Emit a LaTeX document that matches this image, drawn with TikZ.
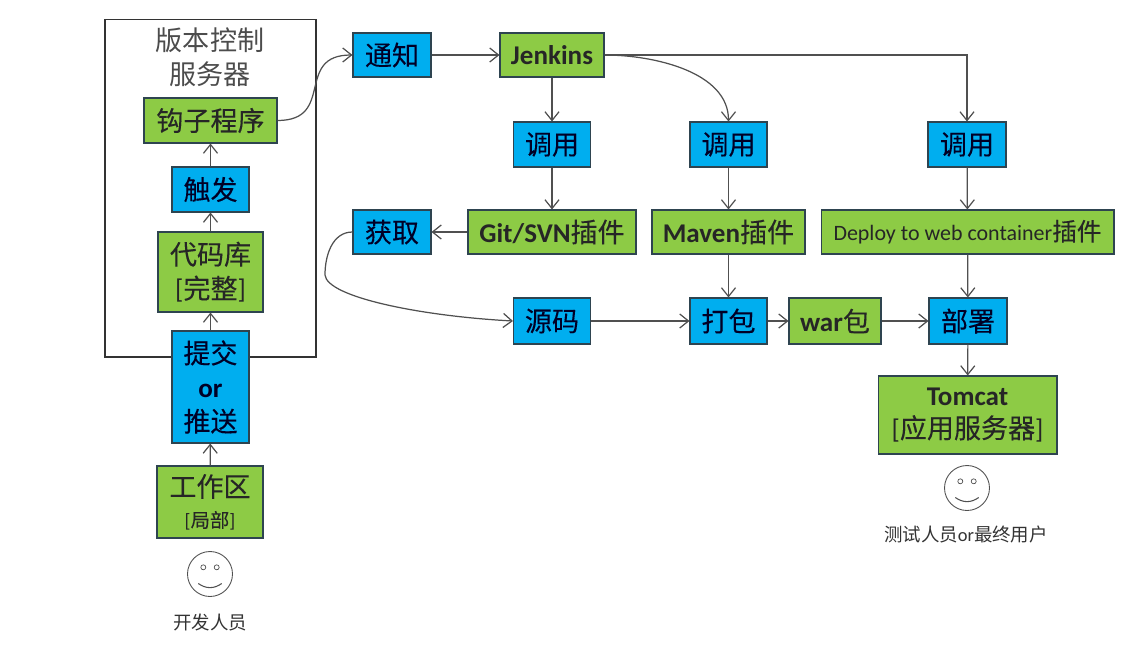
\documentclass[tikz,border=0pt]{standalone}
\usepackage{fontspec}
\setmainfont{Carlito}
\newfontfamily\cjk[FakeBold=0.15]{Noto Sans CJK SC}
\newfontfamily\cjklight{Noto Sans CJK SC}
\usetikzlibrary{arrows.meta,shadows}
\definecolor{boxblue}{HTML}{00AEEF}
\definecolor{boxgreen}{HTML}{8DCB45}
\definecolor{boxline}{HTML}{2E4450}
\definecolor{arrowline}{HTML}{505050}
\newcommand{\zh}[1]{{\cjk #1}}
\newcommand{\zhl}[1]{{\cjklight #1}}
\tikzset{
    bluebox/.style={rectangle, draw=boxline, fill=boxblue, line width=0.6pt, inner sep=0pt,
        align=center, text=black!85!blue, font=\fontsize{15.4}{19.4}\selectfont,
        drop shadow={shadow xshift=0.5pt, shadow yshift=-0.5pt, opacity=0.3}},
    greenbox/.style={bluebox, fill=boxgreen, text=black!85},
    face/.style={draw=arrowline, circle, minimum size=0.9cm, line width=0.5pt, inner sep=0pt},
    caption/.style={text=black!80, font=\fontsize{10.5}{13}\selectfont},
    link/.style={draw=arrowline, line width=0.7pt, -{Straight Barb[length=5pt,width=8pt]}}
}
\begin{document}
\begin{tikzpicture}[x=0.02cm, y=-0.02cm]
\useasboundingbox (0,0) rectangle (1146,660);
% server frame
\node[rectangle, draw=black!80, line width=0.6pt, minimum width=4.22cm, minimum height=6.76cm] (server) at (210.5,188) {};
\node[align=center, text=black!70, font=\fontsize{15.4}{19.4}\selectfont] (servertitle) at (210,57.5) {\zhl{版本控制}\\\zhl{服务器}};
% left column
\node[greenbox, minimum width=2.66cm, minimum height=0.9cm] (hook) at (210.5,120.5) {\zh{钩子程序}};
\node[bluebox, minimum width=1.54cm, minimum height=0.9cm] (trigger) at (210.5,189.5) {\zh{触发}};
\node[greenbox, minimum width=2.1cm, minimum height=1.6cm] (repo) at (210.5,272) {\zh{代码库}\\{[}\zh{完整}{]}};
\node[bluebox, minimum width=1.54cm, minimum height=2.24cm] (commit) at (210.5,387) {\zh{提交}\\\textbf{or}\\\zh{推送}};
\node[greenbox, minimum width=2.12cm, minimum height=1.44cm, align=center] (work) at (210,502) {\zh{工作区}\\[-2pt]{\fontsize{11}{14}\selectfont[\zh{局部}]}};
\node[face] (dev) at (210,574) {};
\node[caption] (devtext) at (210,622) {\zhl{开发人员}};
% top row and the calls
\node[bluebox, minimum width=1.56cm, minimum height=0.88cm] (notify) at (392,55) {\zh{通知}};
\node[greenbox, minimum width=2.08cm, minimum height=0.88cm] (jenkins) at (552,55) {\textbf{Jenkins}};
\node[bluebox, minimum width=1.54cm, minimum height=0.9cm] (callA) at (552,144.5) {\zh{调用}};
\node[bluebox, minimum width=1.54cm, minimum height=0.9cm] (callB) at (728.5,144.5) {\zh{调用}};
\node[bluebox, minimum width=1.56cm, minimum height=0.9cm] (callC) at (967,144.5) {\zh{调用}};
% plugins
\node[bluebox, minimum width=1.56cm, minimum height=0.88cm] (fetch) at (392,232) {\zh{获取}};
\node[greenbox, minimum width=3.36cm, minimum height=0.88cm] (git) at (552,232) {\textbf{Git/SVN}\zh{插件}};
\node[greenbox, minimum width=3.06cm, minimum height=0.88cm] (maven) at (728.5,232) {\textbf{Maven}\zh{插件}};
\node[greenbox, minimum width=5.86cm, minimum height=0.88cm, font=\fontsize{12.5}{15}\selectfont] (deploy) at (967.5,232) {Deploy to web container{\fontsize{14}{15}\selectfont\zh{插件}}};
% build row
\node[bluebox, minimum width=1.54cm, minimum height=0.92cm] (source) at (552,321) {\zh{源码}};
\node[bluebox, minimum width=1.54cm, minimum height=0.92cm] (package) at (728.5,321) {\zh{打包}};
\node[greenbox, minimum width=1.84cm, minimum height=0.92cm] (war) at (835,321) {\textbf{war}\zh{包}};
\node[bluebox, minimum width=1.56cm, minimum height=0.92cm] (install) at (968,321) {\zh{部署}};
\node[greenbox, minimum width=3.58cm, minimum height=1.56cm] (tomcat) at (967.5,415) {\raisebox{-2pt}{\textbf{Tomcat}}\\[-1pt]\raisebox{-2pt}{{[}\zh{应用服务器}{]}}};
\node[face] (user) at (967,488) {};
\node[caption] (usertext) at (966,534) {\zhl{测试人员}or\zhl{最终用户}};
\coordinate (bend) at (325,275);
% faces
\foreach \f in {dev,user} {
    \draw[draw=arrowline, line width=0.4pt] ([shift={(-6.7,-6.7)}]\f.center) circle (2.5);
    \draw[draw=arrowline, line width=0.4pt] ([shift={(6.7,-6.7)}]\f.center) circle (2.5);
    \draw[draw=arrowline, line width=0.6pt] ([shift={(-11.7,9.5)}]\f.center) .. controls ([shift={(-4,15)}]\f.center) and ([shift={(4,15)}]\f.center) .. ([shift={(11.7,9.5)}]\f.center);
}
% connectors
\draw[link] (work) -- (commit);
\draw[link] (commit) -- (repo);
\draw[link] (repo) -- (trigger);
\draw[link] (trigger) -- (hook);
\draw[link] (hook.east) to[out=0, in=180, looseness=1.5] (notify.west);
\draw[link] (notify) -- (jenkins);
\draw[link] (jenkins) -- (callA);
\draw[link] (jenkins.east) to[out=0, in=90, looseness=0.9] (callB.north);
\draw[link] (jenkins.east) -| (callC.north);
\draw[link] (callA) -- (git);
\draw[link] (callB) -- (maven);
\draw[link] (callC) -- (deploy);
\draw[link] (git) -- (fetch);
\draw[link] (fetch.west) to[out=180, in=90, looseness=1] (bend) .. controls (327,297) and (420,316) .. (source.west);
\draw[link] (source) -- (package);
\draw[link] (maven) -- (package);
\draw[link] (package) -- (war);
\draw[link] (war) -- (install);
\draw[link] (deploy) -- (install);
\draw[link] (install) -- (tomcat);
\end{tikzpicture}
\end{document}
